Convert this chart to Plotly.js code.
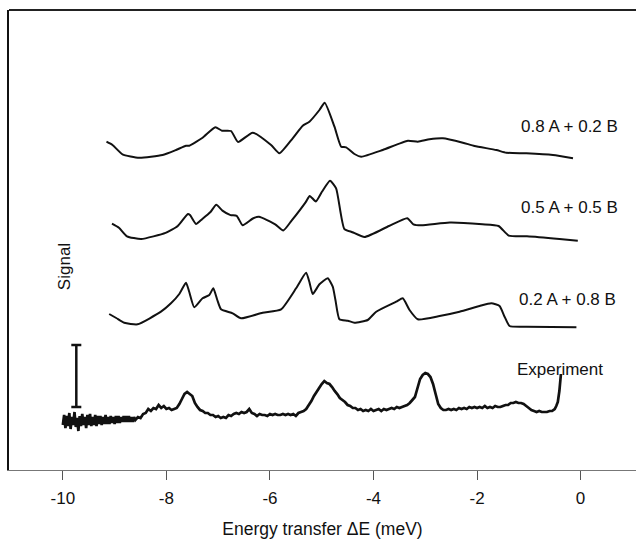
<!DOCTYPE html>
<html>
<head>
<meta charset="utf-8">
<script src="https://cdn.plot.ly/plotly-3.0.1.min.js"></script>
<style>html,body{margin:0;padding:0;background:#fff;overflow:hidden;}#chart{width:636px;height:539px;}</style>
</head>
<body>
<div id="chart"></div>
<script>
// ---- Data (signal in arbitrary units, curves stacked with offsets) ----
const tickVals = [-10, -8, -6, -4, -2, 0];
const tickText = ["-10", "-8", "-6", "-4", "-2", "0"];

const labels = ["0.8 A + 0.2 B", "0.5 A + 0.5 B", "0.2 A + 0.8 B", "Experiment"];
const labelE = [-0.21, -0.21, -0.26, -0.40];
const labelS = [344, 263, 171, 101];

// 0.8 A + 0.2 B
const eMix82 = [-9.157,-9.041,-8.848,-8.525,-8.074,-7.815,-7.622,-7.558,-7.301,-7.055,-6.926,-6.752,-6.616,-6.334,-5.978,-5.818,-5.561,-5.367,-5.238,-5.044,-4.942,-4.754,-4.625,-4.528,-4.368,-4.238,-3.821,-3.337,-3.144,-2.918,-2.660,-2.274,-2.048,-1.628,-1.435,-1.048,-0.534,-0.147];
const sMix82 = [328.3,325,315.7,312.3,315,320,324.3,324.3,332.3,342.7,339.3,339,328,337.3,325,316.7,331.7,344.3,348.3,360,367.3,343.3,323.3,322.7,316,313.3,320,329.3,328.3,330.7,331.7,327.3,324,320,317.3,316.7,315,311.7];

// 0.5 A + 0.5 B
const eMix55 = [-9.051,-8.917,-8.761,-8.486,-8.016,-7.780,-7.585,-7.544,-7.428,-7.311,-7.154,-7.036,-6.918,-6.761,-6.643,-6.527,-6.330,-6.212,-5.899,-5.742,-5.586,-5.309,-5.232,-5.114,-4.996,-4.840,-4.722,-4.565,-4.408,-4.172,-3.701,-3.349,-3.231,-3.074,-2.525,-1.897,-1.584,-1.388,-1.034,-0.408,-0.054];
const sMix55 = [246.4,242.3,233.7,231,237.1,244,256,254.9,246,250.8,257.7,265.2,259.4,254.9,254.2,244.7,251.5,253.2,245.7,239.5,249.1,267.9,274.1,268.6,278.2,289.2,281.6,241.2,237.8,233,244,251.8,245.7,244.7,247.4,245.7,244,234.4,233.7,231,229.2];

// 0.2 A + 0.8 B
const eMix28 = [-9.105,-8.969,-8.815,-8.558,-8.105,-7.912,-7.751,-7.622,-7.558,-7.461,-7.301,-7.171,-7.094,-7.017,-6.945,-6.721,-6.558,-6.141,-5.785,-5.495,-5.302,-5.238,-5.174,-5.044,-4.884,-4.787,-4.735,-4.658,-4.497,-4.368,-4.111,-3.948,-3.561,-3.434,-3.304,-3.144,-2.724,-2.338,-1.951,-1.725,-1.565,-1.468,-1.372,-1.048,-0.081];
const sMix28 = [156,152,147.3,145.7,158.3,166.7,176,187.3,178,162.7,171.7,175,181.7,170,160.7,156.7,151.7,157.3,160.7,181.7,197.3,188,176,185.7,191.7,183.3,170,150.7,149.3,147.3,150,158.3,168.3,171.7,160,150.7,154,158.3,164,166.7,164,153.3,144,143.3,142.7];

// Experiment (noisy measured spectrum)
const eExp = [-10.000,-9.975,-9.950,-9.925,-9.900,-9.875,-9.850,-9.825,-9.800,-9.775,-9.750,-9.725,-9.700,-9.675,-9.650,-9.625,-9.600,-9.575,-9.550,-9.525,-9.500,-9.475,-9.450,-9.425,-9.400,-9.375,-9.350,-9.325,-9.300,-9.275,-9.250,-9.225,-9.200,-9.175,-9.150,-9.125,-9.100,-9.075,-9.050,-9.025,-9.000,-8.975,-8.950,-8.925,-8.900,-8.875,-8.850,-8.825,-8.800,-8.775,-8.750,-8.725,-8.700,-8.675,-8.650,-8.625,-8.600,
-8.55,-8.50,-8.45,-8.40,-8.35,-8.30,-8.25,-8.20,-8.15,-8.10,-8.05,-8.00,-7.95,-7.90,-7.85,-7.80,-7.75,-7.70,-7.65,-7.60,-7.55,-7.50,-7.45,-7.40,-7.35,-7.30,-7.25,-7.20,-7.15,-7.10,-7.05,-7.00,-6.95,-6.90,-6.85,-6.80,-6.75,-6.70,-6.65,-6.60,-6.55,-6.50,-6.45,-6.40,-6.35,-6.30,-6.25,-6.20,-6.15,-6.10,-6.05,-6.00,-5.95,-5.90,-5.85,-5.80,-5.75,-5.70,-5.65,-5.60,-5.55,-5.50,-5.45,-5.40,-5.35,-5.30,-5.25,-5.20,-5.15,-5.10,-5.05,-5.00,-4.95,-4.90,-4.85,-4.80,-4.75,-4.70,-4.65,-4.60,-4.55,-4.50,-4.45,-4.40,-4.35,-4.30,-4.25,-4.20,-4.15,-4.10,-4.05,-4.00,-3.95,-3.90,-3.85,-3.80,-3.75,-3.70,-3.65,-3.60,-3.55,-3.50,-3.45,-3.40,-3.35,-3.30,-3.25,-3.20,-3.15,-3.10,-3.05,-3.00,-2.95,-2.90,-2.85,-2.80,-2.75,-2.70,-2.65,-2.60,-2.55,-2.50,-2.45,-2.40,-2.35,-2.30,-2.25,-2.20,-2.15,-2.10,-2.05,-2.00,-1.95,-1.90,-1.85,-1.80,-1.75,-1.70,-1.65,-1.60,-1.55,-1.50,-1.45,-1.40,-1.35,-1.30,-1.25,-1.20,-1.15,-1.10,-1.05,-1.00,-0.95,-0.90,-0.85,-0.80,-0.75,-0.70,-0.65,-0.60,-0.55,-0.50,-0.47,-0.44,-0.41,-0.38];
const sExp = [45,55,42,54,44,57,41,53,45,58,43,52,39,54,44,56,45,53,42,55,45,56,44,53,45,55,44,54,46,54,45,53,46,55,46,53,46,54,47,53,46,54,47,54,47,53,48,54,48,54,48,54,48,53,48,53,50,
53,52,56,57,61,59,62,61,65,62,64,61,62,60,61,62,66,71,76,78,76,74,67,63,60,59,57,57,55,55,53,54,52,53,52,55,54,56,57,56,58,57,58,61,57,56,54,56,55,55,54,56,55,56,55,55,56,55,56,55,56,54,57,58,59,61,65,69,74,78,82,86,89,87,86,83,79,76,72,70,68,65,64,62,62,60,61,59,60,59,61,59,60,61,59,61,60,61,62,61,63,62,63,64,65,67,70,73,82,91,95,97,96,93,86,76,66,62,60,60,61,60,61,60,62,61,62,61,63,62,63,62,63,62,64,62,63,62,64,63,63,64,65,65,67,67,68,67,67,66,64,62,60,59,58,59,58,58,58,59,59,61,64,68,79,96];

// Scale bar (signal unit marker)
const barE = [-9.74];
const barMid = [94];
const barHalf = [31];

const font = "Liberation Sans, Arial, Helvetica, sans-serif";
const simLine = {color: "#111", width: 2, shape: "spline", smoothing: 0.5};

const traces = [
  {x: eMix82, y: sMix82, mode: "lines", line: simLine, hoverinfo: "skip"},
  {x: eMix55, y: sMix55, mode: "lines", line: simLine, hoverinfo: "skip"},
  {x: eMix28, y: sMix28, mode: "lines", line: simLine, hoverinfo: "skip"},
  {x: eExp, y: sExp, mode: "lines", line: {color: "#111", width: 2.7, simplify: false}, hoverinfo: "skip"},
  {x: barE, y: barMid, mode: "markers", marker: {size: 1, color: "#111"},
   error_y: {type: "data", array: barHalf, visible: true, color: "#111", thickness: 2.5, width: 5}, hoverinfo: "skip"}
];

const annotations = labels.map((t, i) => ({
  x: labelE[i], y: labelS[i], xref: "x", yref: "y", text: t, showarrow: false,
  xanchor: "center", yanchor: "middle", font: {family: font, size: 17, color: "#111"}
}));
annotations.push({x: -9.975, y: 203, xref: "x", yref: "y", text: "Signal", showarrow: false,
  textangle: -90, xanchor: "center", yanchor: "middle", font: {family: font, size: 17, color: "#111"}});

const layout = {
  width: 636, height: 539,
  margin: {l: 9, r: 0, t: 10, b: 69},
  paper_bgcolor: "#fff", plot_bgcolor: "#fff",
  showlegend: false,
  xaxis: {
    range: [-11.04, 1.07], tickmode: "array", tickvals: tickVals, ticktext: tickText,
    ticks: "outside", ticklen: 9, tickwidth: 1, tickcolor: "#555", ticklabelstandoff: 3,
    showgrid: false, zeroline: false, showline: true, linecolor: "#777", linewidth: 1.2,
    tickfont: {family: font, size: 17, color: "#111"},
    title: {text: "Energy transfer ΔE (meV)", font: {family: font, size: 17.5, color: "#111"}, standoff: 17}
  },
  yaxis: {
    range: [0, 460], showticklabels: false, ticks: "", showgrid: false, zeroline: false,
    showline: true, linecolor: "#111", linewidth: 2.5
  },
  shapes: [
    {type: "line", xref: "paper", yref: "paper", x0: 0, x1: 1, y0: 1, y1: 1, line: {color: "#222", width: 2}}
  ],
  annotations: annotations
};

Plotly.newPlot("chart", traces, layout, {displayModeBar: false, staticPlot: true});
</script>
</body>
</html>
